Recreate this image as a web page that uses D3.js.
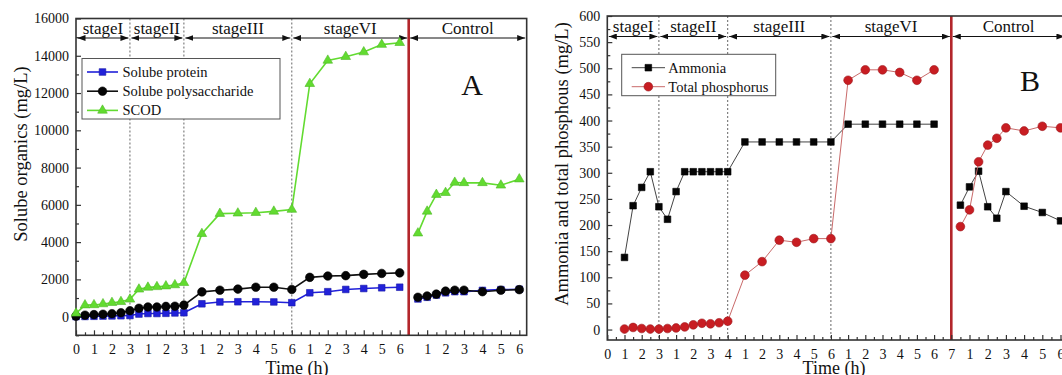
<!DOCTYPE html>
<html>
<head>
<meta charset="utf-8">
<script src="https://cdn.jsdelivr.net/npm/d3@7"></script>
<style>
  body { margin: 0; background: #fff; }
  svg { display: block; }
  svg text { font-family: "Liberation Serif", "Times New Roman", serif; }
</style>
</head>
<body>
<svg id="chart" width="1062" height="375"></svg>
<script>
// ---- panel A : soluble organics ----
const aTime = [0,0.5,1,1.5,2,2.5,3,3.5,4,4.5,5,5.5,6,7,8,9,10,11,12,13,14,15,16,17,18];
const aProtein = [0,10,20,30,40,50,60,140,170,170,180,200,210,690,790,800,800,790,750,1280,1340,1460,1510,1550,1580];
const aPolysac = [30,80,110,130,160,210,320,450,520,520,550,560,620,1330,1420,1480,1580,1580,1460,2110,2180,2200,2270,2320,2350];
const aScod = [180,620,630,680,750,800,930,1470,1570,1600,1640,1700,1820,4450,5530,5550,5580,5650,5750,12500,13750,13950,14200,14600,14700];

// control runs (hours inside the control section)
const ctrlTime = [0.5,1,1.5,2,2.5,3,4,5,6];
const aProteinCtrl = [950,1040,1160,1280,1340,1340,1410,1450,1470];
const aPolysacCtrl = [1040,1110,1210,1370,1420,1420,1340,1420,1450];
const aScodCtrl = [4480,5650,6550,6650,7200,7180,7180,7050,7380];

// ---- panel B : ammonia and total phosphorus ----
const bTime = [1,1.5,2,2.5,3,3.5,4,4.5,5,5.5,6,6.5,7,8,9,10,11,12,13,14,15,16,17,18,19];
const bAmmonia = [138,237,272,302,235,211,264,302,302,302,302,302,302,359,359,359,359,359,359,393,393,393,393,393,393];
const bPhos = [1,4,2,1,1,2,3,5,9,12,11,13,16,104,130,171,167,174,174,477,497,497,492,477,497];
const bAmmoniaCtrl = [238,273,303,235,213,264,236,224,208];
const bPhosCtrl = [197,229,321,353,366,386,380,389,386];

// stages and tick labels
const stageNames = ['stageI','stageII','stageIII','stageVI','Control'];
const aStageStarts = [0,3,6,12,18.5];
const bStageStarts = [0,3,7,13,20];
const aTickLabels = ['0','1','2','3','1','2','3','1','2','3','4','5','6','1','2','3','4','5','6'];
const bTickLabels = ['0','1','2','3','1','2','3','4','1','2','3','4','5','6','1','2','3','4','5','6','7'];
const ctrlTickLabels = ['1','2','3','4','5','6'];

const svg = d3.select('#chart');
const frameColor = '#333';
const redLine = '#b3262b';
const serif = '"Liberation Serif", "Times New Roman", serif';

const defs = svg.append('defs');
defs.append('marker')
  .attr('id', 'arr')
  .attr('viewBox', '0 0 8 6')
  .attr('refX', 8).attr('refY', 3)
  .attr('markerWidth', 8).attr('markerHeight', 6)
  .attr('markerUnits', 'userSpaceOnUse')
  .attr('orient', 'auto-start-reverse')
  .append('path').attr('d', 'M0,0L8,3L0,6Z').attr('fill', '#111');

function drawPanel(o) {
  const g = svg.append('g');
  const ctrl = o.stageStarts[o.stageStarts.length - 1];
  const x = d3.scaleLinear().domain([0, ctrl, ctrl + 6]).range(o.xRange);
  const y = d3.scaleLinear().domain(o.yDomain).range(o.yRange);
  const xl = x(0), xr = x(o.xEnd), yb = y(o.yDomain[0]), yt = y(o.yDomain[1]);

  // stage boundaries (dotted) and control divider (red)
  o.stageStarts.slice(1, -1).forEach(s => {
    g.append('line')
      .attr('x1', x(s)).attr('x2', x(s)).attr('y1', yt).attr('y2', yb)
      .attr('stroke', '#666').attr('stroke-width', 1).attr('stroke-dasharray', '2,2');
  });
  g.append('line')
    .attr('x1', x(ctrl)).attr('x2', x(ctrl)).attr('y1', yt).attr('y2', yb)
    .attr('stroke', redLine).attr('stroke-width', 2.6);

  // stage band with double arrows
  const bounds = o.stageStarts.concat([o.xEnd]);
  stageNames.forEach((name, i) => {
    const s = x(bounds[i]), e = x(bounds[i + 1]);
    g.append('line')
      .attr('x1', s + 1.5).attr('x2', e - 1.5).attr('y1', o.bandY).attr('y2', o.bandY)
      .attr('stroke', '#111').attr('stroke-width', 1)
      .attr('marker-start', 'url(#arr)').attr('marker-end', 'url(#arr)');
    g.append('text')
      .attr('x', (s + e) / 2).attr('y', o.bandY - 4.5)
      .attr('text-anchor', 'middle').attr('font-size', 17).attr('fill', '#111')
      .text(name);
  });

  // x axis: major ticks with stage-relative labels, minor ticks at half hours
  const majorPos = o.tickLabels.map((_, i) => i).concat(ctrlTickLabels.map((_, i) => ctrl + i + 1));
  const majorText = o.tickLabels.concat(ctrlTickLabels);
  const minorPos = d3.range(0.5, o.tickLabels.length - 1, 1).concat(d3.range(ctrl + 0.5, ctrl + 6, 1));

  g.append('g').attr('transform', `translate(0,${yb})`)
    .call(d3.axisBottom(x).tickValues(majorPos).tickSizeInner(-5).tickSizeOuter(0).tickPadding(9)
      .tickFormat((d, i) => majorText[i]));
  g.append('g').attr('transform', `translate(0,${yb})`)
    .call(d3.axisBottom(x).tickValues(minorPos).tickSizeInner(-3).tickSizeOuter(0).tickFormat(''));

  g.append('g').attr('transform', `translate(${xl},0)`)
    .call(d3.axisLeft(y).tickValues(o.yMajor).tickSizeInner(-5).tickSizeOuter(0).tickPadding(7)
      .tickFormat(d3.format('d')));
  g.append('g').attr('transform', `translate(${xl},0)`)
    .call(d3.axisLeft(y).tickValues(o.yMinor).tickSizeInner(-3).tickSizeOuter(0).tickFormat(''));

  g.selectAll('.domain').remove();
  g.selectAll('.tick line').attr('stroke', frameColor).attr('stroke-width', 1.2);
  g.selectAll('.tick text').attr('font-size', 14).attr('fill', '#111').attr('font-family', serif);

  // frame
  g.append('rect')
    .attr('x', xl).attr('y', yt).attr('width', xr - xl).attr('height', yb - yt)
    .attr('fill', 'none').attr('stroke', frameColor).attr('stroke-width', 1.6);

  // series
  o.series.forEach(sr => {
    [[o.time, sr.main], [ctrlTime.map(h => ctrl + h), sr.ctrl]].forEach(([xs, vs]) => {
      const pts = xs.map((t, i) => [x(t), y(vs[i])]);
      g.append('path')
        .attr('d', d3.line()(pts))
        .attr('fill', 'none').attr('stroke', sr.lineColor).attr('stroke-width', sr.lineWidth);
      g.selectAll(null).data(pts).enter().append('path')
        .attr('transform', d => `translate(${d[0]},${d[1]})`)
        .attr('d', d3.symbol().type(sr.symbol).size(sr.size))
        .attr('fill', sr.fill).attr('stroke', sr.stroke).attr('stroke-width', 0.6);
    });
  });

  // legend
  const lg = o.legend;
  g.append('rect')
    .attr('x', lg.x).attr('y', lg.y).attr('width', lg.w).attr('height', lg.h)
    .attr('fill', '#fff').attr('stroke', '#555').attr('stroke-width', 1);
  o.series.forEach((sr, i) => {
    const ly = lg.firstY + i * lg.step;
    g.append('line')
      .attr('x1', lg.x + lg.lineFrom).attr('x2', lg.x + lg.lineTo).attr('y1', ly).attr('y2', ly)
      .attr('stroke', sr.lineColor).attr('stroke-width', sr.lineWidth);
    g.append('path')
      .attr('transform', `translate(${lg.x + (lg.lineFrom + lg.lineTo) / 2},${ly})`)
      .attr('d', d3.symbol().type(sr.symbol).size(sr.size))
      .attr('fill', sr.fill).attr('stroke', sr.stroke).attr('stroke-width', 0.6);
    g.append('text')
      .attr('x', lg.x + lg.textX).attr('y', ly + 5)
      .attr('font-size', 14.5).attr('fill', '#111').attr('font-family', serif)
      .text(sr.name);
  });

  // panel letter and titles
  g.append('text').attr('x', o.letter[0]).attr('y', o.letter[1])
    .attr('text-anchor', 'middle').attr('font-size', 30).attr('fill', '#111').text(o.letter[2]);
  g.append('text')
    .attr('transform', `translate(${o.yTitleX},${o.yTitleY}) rotate(-90)`)
    .attr('text-anchor', 'middle').attr('font-size', 18.5).attr('fill', '#111')
    .text(o.yTitle);
  g.append('text').attr('x', o.xTitleX).attr('y', 373.5)
    .attr('text-anchor', 'middle').attr('font-size', 18).attr('fill', '#111')
    .text('Time (h)');
}

drawPanel({
  stageStarts: aStageStarts,
  tickLabels: aTickLabels,
  xRange: [76, 408.7, 519.3], xEnd: 24.9,
  yDomain: [-1000, 16000], yRange: [335.3, 18.5],
  yMajor: d3.range(0, 16001, 2000), yMinor: d3.range(-1000, 16000, 2000),
  bandY: 38,
  time: aTime,
  series: [
    { name: 'Solube protein', main: aProtein, ctrl: aProteinCtrl, symbol: d3.symbolSquare, size: 44,
      fill: '#2121d9', stroke: '#1a1aa8', lineColor: '#2121d9', lineWidth: 1.6 },
    { name: 'Solube polysaccharide', main: aPolysac, ctrl: aPolysacCtrl, symbol: d3.symbolCircle, size: 58,
      fill: '#050505', stroke: '#000', lineColor: '#111', lineWidth: 1.6 },
    { name: 'SCOD', main: aScod, ctrl: aScodCtrl, symbol: d3.symbolTriangle, size: 40,
      fill: '#62db30', stroke: '#4fb826', lineColor: '#62db30', lineWidth: 1.6 }
  ],
  legend: { x: 82, y: 58.5, w: 198, h: 60.5, firstY: 72, step: 19.2, lineFrom: 5, lineTo: 36, textX: 40.5 },
  letter: [472, 95, 'A'],
  yTitle: 'Solube organics (mg/L)', yTitleX: 27, yTitleY: 154,
  xTitleX: 297
});

drawPanel({
  stageStarts: bStageStarts,
  tickLabels: bTickLabels,
  xRange: [607.3, 951.3, 1060.5], xEnd: 26.3,
  yDomain: [-20, 600], yRange: [340, 16],
  yMajor: d3.range(0, 601, 50), yMinor: d3.range(25, 600, 50),
  bandY: 36.5,
  time: bTime,
  series: [
    { name: 'Ammonia', main: bAmmonia, ctrl: bAmmoniaCtrl, symbol: d3.symbolSquare, size: 44,
      fill: '#050505', stroke: '#000', lineColor: '#444', lineWidth: 1 },
    { name: 'Total phosphorus', main: bPhos, ctrl: bPhosCtrl, symbol: d3.symbolCircle, size: 60,
      fill: '#c81d22', stroke: '#9e1a1e', lineColor: '#c96a6a', lineWidth: 1 }
  ],
  legend: { x: 621.7, y: 54.3, w: 154, h: 41.4, firstY: 67.7, step: 19, lineFrom: 10, lineTo: 43.3, textX: 46.6 },
  letter: [1030, 90.5, 'B'],
  yTitle: 'Ammonia and total phosphous (mg/L)', yTitleX: 568, yTitleY: 164,
  xTitleX: 834
});
</script>
</body>
</html>
